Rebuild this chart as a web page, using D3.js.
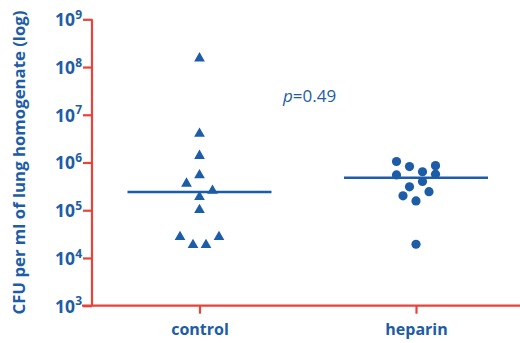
<!DOCTYPE html>
<html><head><meta charset="utf-8">
<script src="https://cdn.jsdelivr.net/npm/d3@7"></script>
<style>html,body{margin:0;padding:0;background:#fff;}svg{display:block;}</style>
</head><body>
<svg id="chart" width="520" height="343"></svg>
<script>
// ---- data ----
const categories = ["control", "heparin"];
const controlValues = [1.6e8, 4.2e6, 1.45e6, 5.7e5, 3.8e5, 2.7e5, 2.0e5, 1.07e5, 2.9e4, 2.9e4, 1.96e4, 1.96e4];
const controlJitter = [0, 0, 0, 0, -1, 1, 0, 0, -1.5, 1.5, -0.5, 0.5];
const heparinValues = [1.05e6, 8.2e5, 8.6e5, 6.4e5, 5.5e5, 5.7e5, 4.0e5, 3.1e5, 2.45e5, 2.0e5, 1.57e5, 1.94e4];
const heparinJitter = [-1.5, -0.5, 1.5, 0.5, -1.5, 1.5, 0.5, -0.5, 1, -1, 0, 0];
const medians = [2.4e5, 4.8e5];
const yTickExponents = [3, 4, 5, 6, 7, 8, 9];
const yLabel = "CFU per ml of lung homogenate (log)";
const pText = "0.49";

// ---- style ----
const BLUE = "#1d5ca6", RED = "#e8433b";
const FONT = "'Open Sans', 'DejaVu Sans', sans-serif";
const svg = d3.select("#chart");
const mLeft = 92, mRight = 520, mTop = 19.3, mBottom = 305.7;

const x = d3.scalePoint().domain(categories).range([199.5, 416]);
const y = d3.scaleLog().domain([1e3, 1e9]).range([mBottom, mTop]);
const jit = d3.scaleLinear().domain([0, 1]).range([0, 13]);

// y axis
const yAxis = d3.axisLeft(y).tickValues(yTickExponents.map(e => Math.pow(10, e)))
  .tickSize(9).tickFormat("");
const gy = svg.append("g").attr("transform", `translate(${mLeft},0)`).call(yAxis);
gy.select(".domain").attr("stroke", RED).attr("stroke-width", 2.2).attr("d", `M0,${mTop}V${mBottom}`);
gy.selectAll(".tick line").attr("stroke", RED).attr("stroke-width", 2.2);
gy.selectAll(".tick").each(function(d) {
  const t = d3.select(this).append("text")
    .attr("x", -10).attr("dy", "0.36em")
    .attr("text-anchor", "end")
    .attr("fill", BLUE).attr("font-family", FONT).attr("font-weight", "bold")
    .attr("font-size", 17.5);
  t.append("tspan").text("10");
  t.append("tspan").attr("font-size", 12).attr("dy", "-0.6em").text(Math.round(Math.log10(d)));
});

// x axis
const xAxis = d3.axisBottom(x).tickSize(8).tickSizeOuter(0).tickFormat("");
const gx = svg.append("g").attr("transform", `translate(0,${mBottom})`).call(xAxis);
gx.select(".domain").attr("stroke", RED).attr("stroke-width", 2.2).attr("d", `M${mLeft - 10},0H${mRight}`);
gx.selectAll(".tick line").attr("stroke", RED).attr("stroke-width", 2.2);
gx.selectAll(".tick").append("text")
  .attr("y", 29).attr("text-anchor", "middle")
  .attr("fill", BLUE).attr("font-family", FONT).attr("font-weight", "bold").attr("font-size", 16)
  .text(d => d);

// y label
svg.append("text")
  .attr("transform", `translate(25,${(mTop + mBottom) / 2}) rotate(-90)`)
  .attr("text-anchor", "middle")
  .attr("fill", BLUE).attr("font-family", FONT).attr("font-weight", "bold").attr("font-size", 16)
  .attr("textLength", 304).attr("lengthAdjust", "spacingAndGlyphs")
  .text(yLabel);

// medians
svg.selectAll("line.median").data(medians).enter().append("line")
  .attr("class", "median")
  .attr("x1", (d, i) => x(categories[i]) - 72)
  .attr("x2", (d, i) => x(categories[i]) + 72)
  .attr("y1", d => y(d)).attr("y2", d => y(d))
  .attr("stroke", BLUE).attr("stroke-width", 2.5);

// control triangles
const tri = d3.symbol().type(d3.symbolTriangle).size(50);
svg.selectAll("path.ctrl").data(controlValues).enter().append("path")
  .attr("class", "ctrl")
  .attr("d", tri)
  .attr("transform", (d, i) => `translate(${x("control") + jit(controlJitter[i])},${y(d) + 1})`)
  .attr("fill", BLUE);

// heparin dots
svg.selectAll("circle.hep").data(heparinValues).enter().append("circle")
  .attr("class", "hep")
  .attr("cx", (d, i) => x("heparin") + jit(heparinJitter[i]))
  .attr("cy", d => y(d))
  .attr("r", 4.6)
  .attr("fill", BLUE);

// p value
const pt = svg.append("text")
  .attr("x", 283).attr("y", 102)
  .attr("fill", BLUE).attr("font-family", FONT).attr("font-size", 17);
pt.append("tspan").attr("font-style", "italic").text("p");
pt.append("tspan").text("=" + pText);
</script>
</body></html>
